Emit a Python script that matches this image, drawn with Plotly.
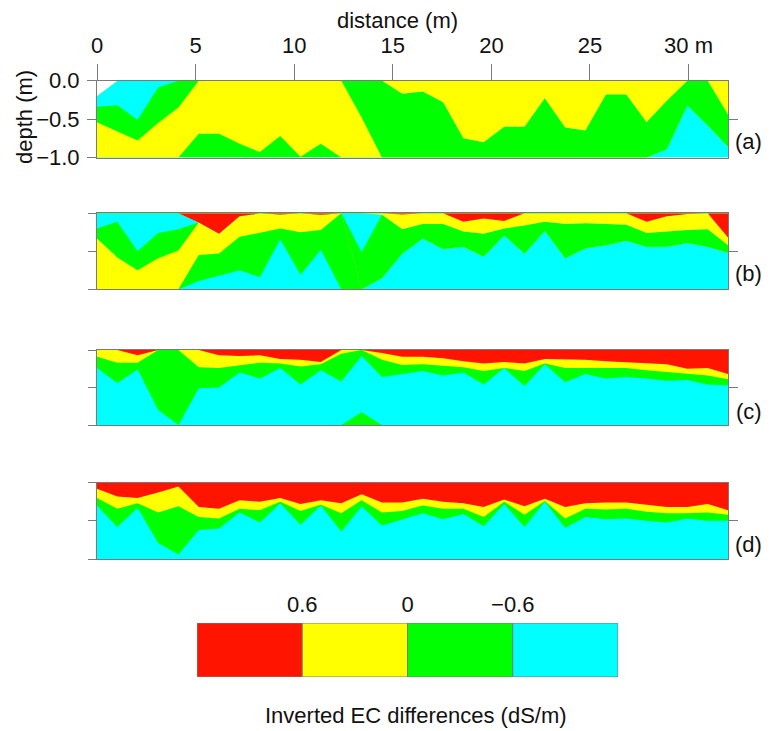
import plotly.graph_objects as go

# ---------------- data ----------------
# distance of the inversion mesh nodes (m)
distance = [0.00, 1.03, 2.06, 3.10, 4.13, 5.16, 6.19, 7.23, 8.26, 9.29, 10.32,
            11.35, 12.39, 13.42, 14.45, 15.48, 16.52, 17.55, 18.58, 19.61, 20.65,
            21.68, 22.71, 23.74, 24.77, 25.81, 26.84, 27.87, 28.90, 29.94, 30.97, 32.00]

# class of inverted EC difference (dS/m)
class_names = ["> 0.6", "0 to 0.6", "-0.6 to 0", "< -0.6"]
class_bounds = ["0.6", "0", "\u22120.6"]
class_colors = {"red": "#ff1400", "yellow": "#ffff00", "green": "#00ff00",
                "cyan": "#00ffff", "blank": "#ffffff"}

# Each panel: layers from top to bottom; list = depth (m) of the LOWER edge
# of that layer at every node.
# ---- panel (a)
a_blank = [-0.20, 0, 0, 0, 0, 0, 0, 0, 0, 0, 0, 0, 0, 0, 0, 0,
           0, 0, 0, 0, 0, 0, 0, 0, 0, 0, 0, 0, 0, 0, 0, 0]
a_yellow_top = [-0.20, 0, 0, 0, 0, 0, 0, 0, 0, 0, 0, 0, 0, 0, 0, -0.17,
                -0.14, -0.28, -0.75, -0.80, -0.60, -0.60, -0.23, -0.61, -0.65, -0.18,
                -0.18, -0.54, -0.26, 0, 0, -0.44]
a_cyan_top = [-0.34, -0.32, -0.51, -0.09, 0, 0, 0, 0, 0, 0, 0, 0, 0, 0, 0, -0.17,
              -0.14, -0.28, -0.75, -0.80, -0.60, -0.60, -0.23, -0.61, -0.65, -0.18,
              -0.18, -0.54, -0.26, 0, 0, -0.44]
a_green_upper = [-0.54, -0.66, -0.78, -0.55, -0.35, 0, 0, 0, 0, 0, 0, 0, 0, -0.48, -1.0, -1.0,
                 -1.0, -1.0, -1.0, -1.0, -1.0, -1.0, -1.0, -1.0, -1.0, -1.0,
                 -1.0, -1.0, -0.89, -0.32, -0.58, -0.86]
a_yellow_mid = [-1.0, -1.0, -1.0, -1.0, -1.0, -0.69, -0.69, -0.82, -0.93, -0.72, -0.99, -0.82,
                -1.0, -1.0, -1.0, -1.0, -1.0, -1.0, -1.0, -1.0, -1.0, -1.0, -1.0, -1.0,
                -1.0, -1.0, -1.0, -1.0, -0.89, -0.32, -0.58, -0.86]
a_green_lower = [-1.0, -1.0, -1.0, -1.0, -1.0, -1.0, -1.0, -1.0, -1.0, -1.0, -1.0, -1.0,
                 -1.0, -1.0, -1.0, -1.0, -1.0, -1.0, -1.0, -1.0, -1.0, -1.0, -1.0, -1.0,
                 -1.0, -1.0, -1.0, -1.0, -0.89, -0.32, -0.58, -0.86]
a_cyan_bottom = [-1.0] * 32

# ---- panel (b)
b_red = [0, 0, 0, 0, 0, -0.12, -0.27, -0.04, 0, -0.015, 0, -0.02, 0, 0, 0, -0.015,
         0, 0, -0.11, -0.07, -0.10, 0, 0, 0, 0, 0, 0, -0.11, -0.04, -0.01, 0, -0.32]
b_yellow_top = [0, 0, 0, 0, 0, -0.12, -0.27, -0.04, 0, -0.015, 0, -0.02, 0, 0, -0.02, -0.21,
                -0.14, -0.14, -0.24, -0.27, -0.20, -0.16, -0.11, -0.14, -0.13, -0.14,
                -0.15, -0.26, -0.24, -0.22, -0.21, -0.42]
b_cyan_top = [-0.20, -0.11, -0.50, -0.26, -0.21, -0.12, -0.27, -0.04, 0, -0.015, 0, -0.02, 0,
              -0.51, -0.02, -0.21, -0.14, -0.14, -0.24, -0.27, -0.20, -0.16, -0.11, -0.14,
              -0.13, -0.14, -0.15, -0.26, -0.24, -0.22, -0.21, -0.42]
b_green_upper = [-0.33, -0.58, -0.75, -0.59, -0.49, -0.12, -0.27, -0.04, 0, -0.015, 0, -0.02, 0,
                 -1.0, -0.85, -0.53, -0.33, -0.47, -0.44, -0.57, -0.29, -0.53, -0.23, -0.59,
                 -0.46, -0.42, -0.36, -0.44, -0.44, -0.39, -0.44, -0.52]
b_yellow_mid = [-1.0, -1.0, -1.0, -1.0, -1.0, -0.55, -0.53, -0.31, -0.26, -0.20, -0.25, -0.22, 0,
                -1.0, -0.85, -0.53, -0.33, -0.47, -0.44, -0.57, -0.29, -0.53, -0.23, -0.59,
                -0.46, -0.42, -0.36, -0.44, -0.44, -0.39, -0.44, -0.52]
b_green_lower = [-1.0, -1.0, -1.0, -1.0, -1.0, -0.89, -0.82, -0.75, -0.84, -0.34, -0.81, -0.48, -1.0,
                 -1.0, -0.85, -0.53, -0.33, -0.47, -0.44, -0.57, -0.29, -0.53, -0.23, -0.59,
                 -0.46, -0.42, -0.36, -0.44, -0.44, -0.39, -0.44, -0.52]
b_cyan_bottom = [-1.0] * 32

# ---- panel (c)
c_red = [0, 0, -0.07, 0, 0, 0, -0.07, -0.08, -0.07, -0.12, -0.13, -0.16, 0, 0, -0.04, -0.09,
         -0.09, -0.11, -0.15, -0.18, -0.16, -0.18, -0.12, -0.12, -0.13, -0.15,
         -0.16, -0.18, -0.19, -0.25, -0.24, -0.32]
c_yellow = [-0.09, -0.17, -0.17, 0, 0, -0.23, -0.24, -0.20, -0.17, -0.18, -0.22, -0.19, -0.05, 0,
            -0.13, -0.20, -0.19, -0.21, -0.23, -0.28, -0.24, -0.28, -0.18, -0.24, -0.24,
            -0.24, -0.24, -0.27, -0.29, -0.32, -0.34, -0.39]
c_green = [-0.24, -0.44, -0.26, -0.80, -1.0, -0.51, -0.50, -0.30, -0.38, -0.24, -0.46, -0.27, -0.42,
           -0.08, -0.36, -0.32, -0.28, -0.34, -0.30, -0.46, -0.24, -0.48, -0.19, -0.43, -0.32,
           -0.38, -0.36, -0.38, -0.41, -0.40, -0.46, -0.47]
c_cyan = [-1.0, -1.0, -1.0, -1.0, -1.0, -1.0, -1.0, -1.0, -1.0, -1.0, -1.0, -1.0, -1.0, -0.83,
          -1.0, -1.0, -1.0, -1.0, -1.0, -1.0, -1.0, -1.0, -1.0, -1.0, -1.0, -1.0,
          -1.0, -1.0, -1.0, -1.0, -1.0, -1.0]
c_green_bottom = [-1.0] * 32

# ---- panel (d)
d_red = [-0.08, -0.18, -0.20, -0.13, -0.05, -0.32, -0.34, -0.23, -0.25, -0.20, -0.28, -0.23,
         -0.27, -0.15, -0.26, -0.26, -0.21, -0.25, -0.27, -0.32, -0.22, -0.31, -0.21, -0.32,
         -0.27, -0.26, -0.26, -0.29, -0.32, -0.32, -0.28, -0.36]
d_yellow = [-0.20, -0.34, -0.27, -0.39, -0.31, -0.45, -0.47, -0.34, -0.36, -0.25, -0.37, -0.29,
            -0.40, -0.23, -0.39, -0.37, -0.30, -0.34, -0.34, -0.45, -0.25, -0.42, -0.24, -0.47,
            -0.34, -0.35, -0.34, -0.38, -0.40, -0.40, -0.39, -0.42]
d_green = [-0.30, -0.58, -0.33, -0.79, -0.94, -0.62, -0.60, -0.39, -0.52, -0.27, -0.55, -0.30,
           -0.64, -0.31, -0.56, -0.48, -0.40, -0.48, -0.41, -0.57, -0.28, -0.58, -0.25, -0.59,
           -0.45, -0.48, -0.47, -0.50, -0.52, -0.47, -0.50, -0.50]
d_cyan = [-1.0] * 32

panels = [
    ("(a)", [("blank", a_blank), ("yellow", a_yellow_top), ("cyan", a_cyan_top),
             ("green", a_green_upper), ("yellow", a_yellow_mid), ("green", a_green_lower),
             ("cyan", a_cyan_bottom)]),
    ("(b)", [("red", b_red), ("yellow", b_yellow_top), ("cyan", b_cyan_top),
             ("green", b_green_upper), ("yellow", b_yellow_mid), ("green", b_green_lower),
             ("cyan", b_cyan_bottom)]),
    ("(c)", [("red", c_red), ("yellow", c_yellow), ("green", c_green), ("cyan", c_cyan),
             ("green", c_green_bottom)]),
    ("(d)", [("red", d_red), ("yellow", d_yellow), ("green", d_green), ("cyan", d_cyan)]),
]

depth_ticks = [0, -0.5, -1.0]
depth_ticktext = ["0.0", "\u22120.5", "\u22121.0"]
dist_ticks = [0, 5, 10, 15, 20, 25, 30]
dist_ticktext = ["0", "5", "10", "15", "20", "25", "30 m"]

# ---------------- layout geometry (page pixels) ----------------
PAGE_W, PAGE_H = 773, 731
OFF = 8                      # default page margin around the figure
W, H = PAGE_W - 2 * OFF, PAGE_H - OFF
FONT = "Arial, Liberation Sans, sans-serif"
FS = 22
LINE = "#7a7a7a"
X0, X1 = 97, 728
panel_px = [(80.7, 157.5), (213.3, 289.3), (350.0, 425.0), (482.7, 559.0)]
label_y = [141, 273, 411, 544]


def px(x):
    return (x - OFF) / W


def py(y):
    return 1 - (y - OFF) / H


fig = go.Figure()
layout = dict(width=W, height=H, margin=dict(l=0, r=0, t=0, b=0, autoexpand=False),
              paper_bgcolor="white", plot_bgcolor="white",
              font=dict(family=FONT, size=FS, color="#111111"),
              showlegend=False, annotations=[])

for i, (label, layers) in enumerate(panels):
    n = i + 1
    xa = "x" if n == 1 else f"x{n}"
    ya = "y" if n == 1 else f"y{n}"
    # paint from the deepest layer upward; each fills from its lower edge to 0
    for cname, lower in reversed(layers):
        fig.add_trace(go.Scatter(x=distance, y=lower, mode="lines",
                                 line=dict(width=0), fill="tozeroy",
                                 fillcolor=class_colors[cname],
                                 xaxis=xa, yaxis=ya, hoverinfo="skip"))
    top, bot = panel_px[i]
    xkey = "xaxis" if n == 1 else f"xaxis{n}"
    ykey = "yaxis" if n == 1 else f"yaxis{n}"
    xax = dict(domain=[px(X0), px(X1)], range=[0, 32], anchor=ya, automargin=False,
               showgrid=False, zeroline=False, showline=True, mirror=True,
               linecolor=LINE, linewidth=1)
    if n == 1:
        xax.update(side="top", ticks="outside", ticklen=16, tickcolor=LINE,
                   tickvals=dist_ticks, ticktext=dist_ticktext,
                   tickfont=dict(size=FS), ticklabelstandoff=2)
    else:
        xax.update(showticklabels=False, ticks="")
    layout[xkey] = xax
    yax = dict(domain=[py(bot), py(top)], range=[-1, 0], anchor=xa, automargin=False,
               showgrid=False, zeroline=False, showline=True, mirror=True,
               linecolor=LINE, linewidth=1, ticks="outside",
               ticklen=9 if n == 1 else 8, tickcolor=LINE,
               tickvals=depth_ticks, ticktext=depth_ticktext,
               showticklabels=(n == 1), tickfont=dict(size=FS),
               ticklabelstandoff=3)
    layout[ykey] = yax
    # right side mid tick
    layout[f"yaxis{4 + n}"] = dict(overlaying=ya, anchor=xa, side="right", automargin=False,
                                   range=[-1, 0], tickvals=[-0.5], ticks="outside",
                                   ticklen=9, tickcolor=LINE, showticklabels=False,
                                   showgrid=False, zeroline=False, showline=False)
    # invisible trace to activate the overlay axis
    fig.add_trace(go.Scatter(x=[None], y=[None], xaxis=xa, yaxis=f"y{4 + n}",
                             hoverinfo="skip"))
    layout["annotations"].append(dict(text=label, x=px(764), y=py(label_y[i]),
                                      xref="paper", yref="paper", xanchor="right",
                                      yanchor="middle", showarrow=False,
                                      font=dict(size=FS)))

# ---------------- colour key ----------------
fig.add_trace(go.Bar(x=[0.5, 1.5, 2.5, 3.5], y=[1, 1, 1, 1], width=1,
                     text=class_names, textposition="none",
                     marker=dict(color=[class_colors[c] for c in ["red", "yellow", "green", "cyan"]],
                                 line=dict(color=LINE, width=1)),
                     cliponaxis=False, xaxis="x5", yaxis="y9", hoverinfo="skip"))
layout["xaxis5"] = dict(domain=[px(197), px(618)], range=[0, 4], anchor="y9", side="top",
                        tickvals=[1, 2, 3], ticktext=class_bounds, ticks="", automargin=False,
                        showgrid=False, zeroline=False, showline=False,
                        tickfont=dict(size=FS), ticklabelstandoff=6)
layout["yaxis9"] = dict(domain=[py(677), py(623)], range=[0, 1], anchor="x5",
                        showticklabels=False, ticks="", showgrid=False, automargin=False,
                        zeroline=False, showline=False)

layout["annotations"] += [
    dict(text="distance (m)", x=px(397.5), y=py(20), xref="paper", yref="paper",
         xanchor="center", yanchor="middle", showarrow=False, font=dict(size=FS)),
    dict(text="depth (m)", x=px(24), y=py(117), xref="paper", yref="paper",
         xanchor="center", yanchor="middle", showarrow=False, textangle=-90,
         font=dict(size=FS)),
    dict(text="Inverted EC differences (dS/m)", x=px(416), y=py(715), xref="paper",
         yref="paper", xanchor="center", yanchor="middle", showarrow=False,
         font=dict(size=FS)),
]

fig.update_layout(**layout)
fig.write_html("out.html")
